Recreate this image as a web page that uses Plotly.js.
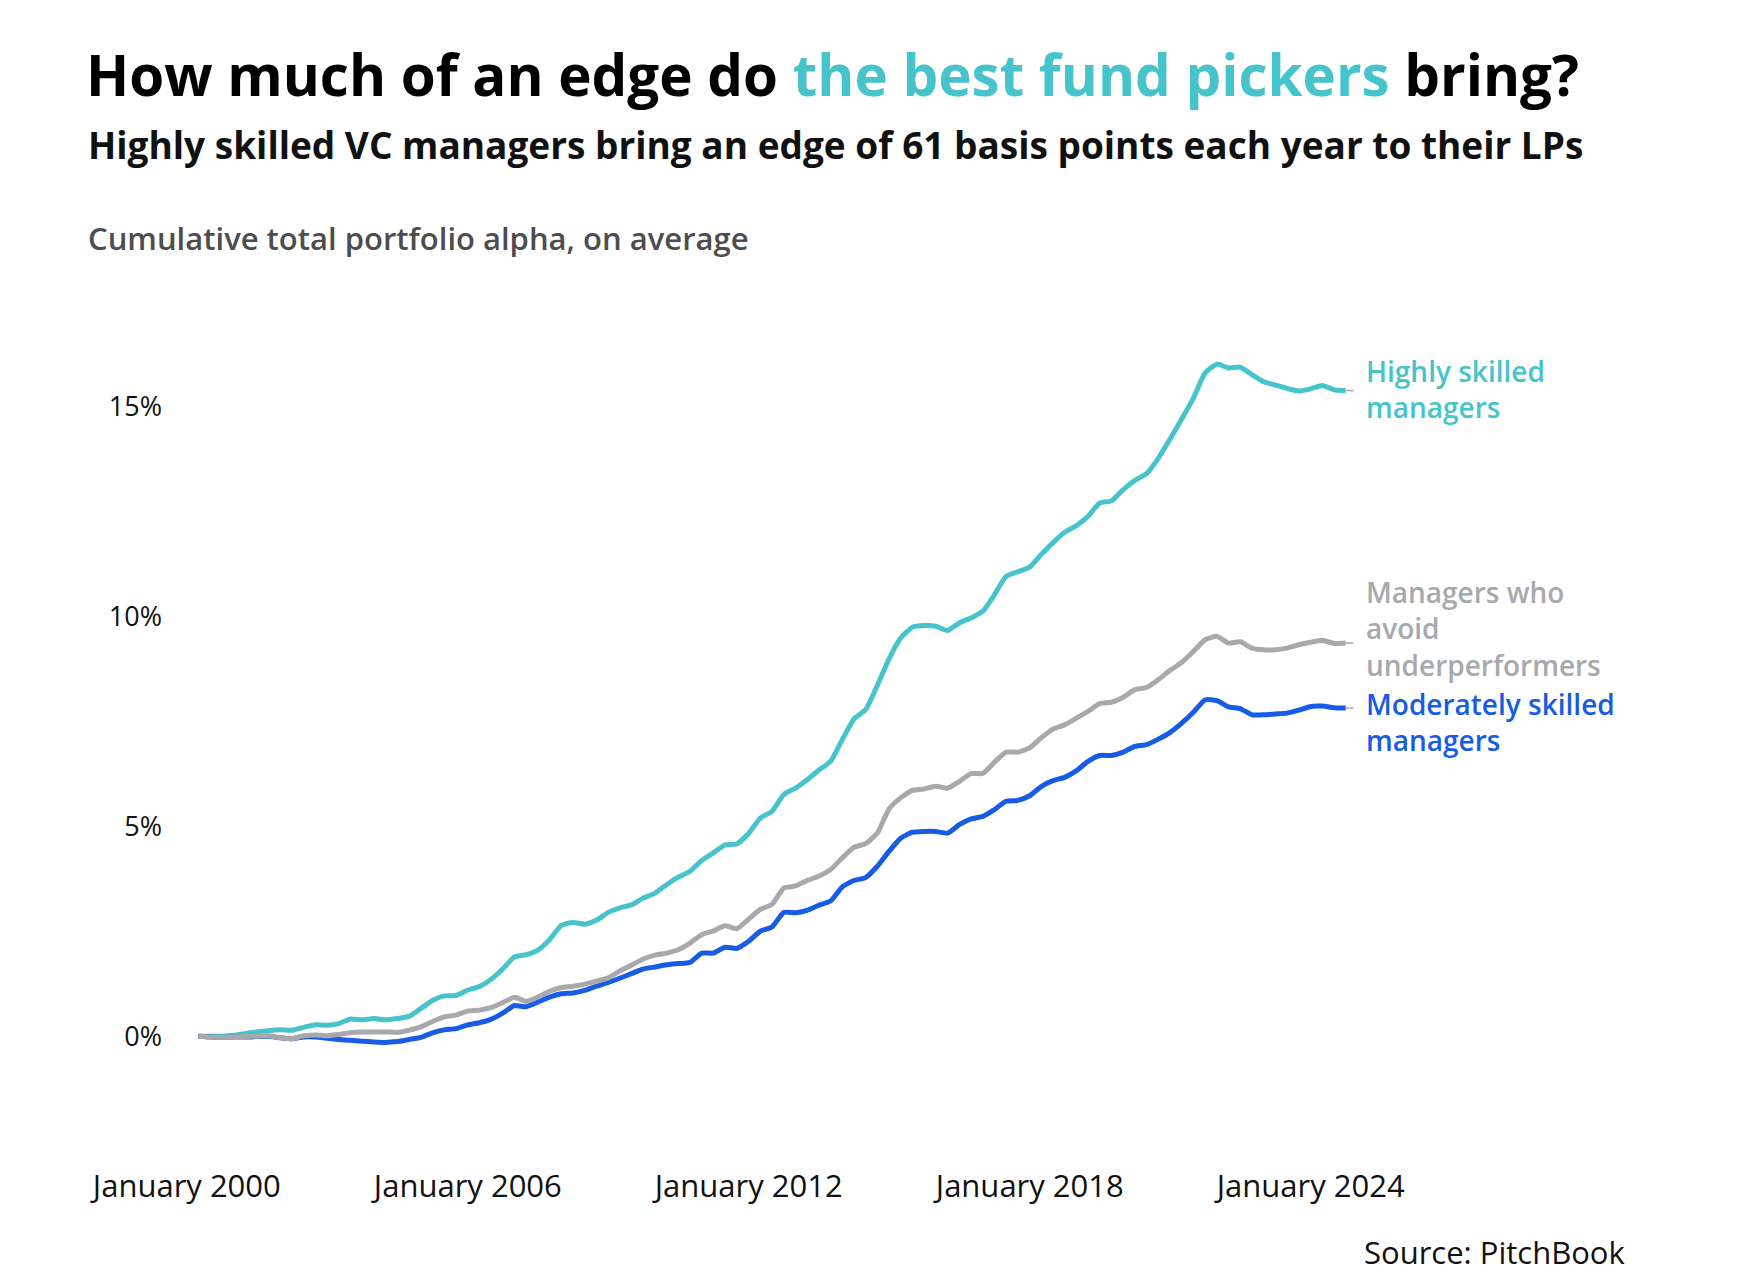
<!DOCTYPE html>
<html>
<head>
<meta charset="utf-8">
<script src="https://cdn.plot.ly/plotly-3.0.1.min.js"></script>
<style>
  html, body { margin: 0; padding: 0; background: #ffffff; }
  #chart { width: 1744px; height: 1284px; }
</style>
</head>
<body>
<div id="chart"></div>
<script>
// Quarter-end dates
const dates = [
  '2000-03-31','2000-06-30','2000-09-30','2000-12-31',
  '2001-03-31','2001-06-30','2001-09-30','2001-12-31',
  '2002-03-31','2002-06-30','2002-09-30','2002-12-31',
  '2003-03-31','2003-06-30','2003-09-30','2003-12-31',
  '2004-03-31','2004-06-30','2004-09-30','2004-12-31',
  '2005-03-31','2005-06-30','2005-09-30','2005-12-31',
  '2006-03-31','2006-06-30','2006-09-30','2006-12-31',
  '2007-03-31','2007-06-30','2007-09-30','2007-12-31',
  '2008-03-31','2008-06-30','2008-09-30','2008-12-31',
  '2009-03-31','2009-06-30','2009-09-30','2009-12-31',
  '2010-03-31','2010-06-30','2010-09-30','2010-12-31',
  '2011-03-31','2011-06-30','2011-09-30','2011-12-31',
  '2012-03-31','2012-06-30','2012-09-30','2012-12-31',
  '2013-03-31','2013-06-30','2013-09-30','2013-12-31',
  '2014-03-31','2014-06-30','2014-09-30','2014-12-31',
  '2015-03-31','2015-06-30','2015-09-30','2015-12-31',
  '2016-03-31','2016-06-30','2016-09-30','2016-12-31',
  '2017-03-31','2017-06-30','2017-09-30','2017-12-31',
  '2018-03-31','2018-06-30','2018-09-30','2018-12-31',
  '2019-03-31','2019-06-30','2019-09-30','2019-12-31',
  '2020-03-31','2020-06-30','2020-09-30','2020-12-31',
  '2021-03-31','2021-06-30','2021-09-30','2021-12-31',
  '2022-03-31','2022-06-30','2022-09-30','2022-12-31',
  '2023-03-31','2023-06-30','2023-09-30','2023-12-31',
  '2024-03-31','2024-06-30','2024-09-30'
];

// Cumulative total portfolio alpha (%)
const highlySkilled = [
  0.00, 0.00, 0.00, 0.02, 0.06, 0.10, 0.13, 0.15, 0.14, 0.21,
  0.27, 0.26, 0.30, 0.41, 0.39, 0.42, 0.39, 0.42, 0.47, 0.66,
  0.85, 0.96, 0.97, 1.10, 1.18, 1.35, 1.60, 1.89, 1.94, 2.05,
  2.30, 2.64, 2.71, 2.67, 2.76, 2.95, 3.06, 3.13, 3.29, 3.41,
  3.61, 3.79, 3.93, 4.19, 4.37, 4.56, 4.58, 4.83, 5.20, 5.36,
  5.76, 5.91, 6.11, 6.34, 6.55, 7.07, 7.56, 7.78, 8.36, 9.00,
  9.49, 9.75, 9.79, 9.77, 9.67, 9.85, 9.97, 10.13, 10.52, 10.96,
  11.07, 11.18, 11.48, 11.76, 12.01, 12.17, 12.39, 12.71, 12.76, 13.03,
  13.25, 13.41, 13.78, 14.24, 14.71, 15.21, 15.81, 16.02, 15.93, 15.95,
  15.77, 15.60, 15.52, 15.44, 15.38, 15.43, 15.51, 15.41, 15.39
];

const avoidUnderperformers = [
  0.00, -0.02, -0.03, -0.02, -0.01, 0.00, 0.01, -0.04, -0.06, 0.01,
  0.03, 0.01, 0.04, 0.08, 0.10, 0.10, 0.10, 0.09, 0.14, 0.22,
  0.35, 0.46, 0.50, 0.60, 0.62, 0.68, 0.80, 0.93, 0.83, 0.93,
  1.07, 1.16, 1.19, 1.24, 1.31, 1.39, 1.55, 1.69, 1.84, 1.93,
  1.98, 2.06, 2.22, 2.42, 2.51, 2.63, 2.56, 2.79, 3.02, 3.14,
  3.53, 3.58, 3.71, 3.81, 3.97, 4.25, 4.50, 4.59, 4.84, 5.42,
  5.68, 5.86, 5.89, 5.96, 5.91, 6.07, 6.26, 6.26, 6.53, 6.77,
  6.77, 6.87, 7.11, 7.32, 7.42, 7.58, 7.74, 7.93, 7.96, 8.08,
  8.26, 8.31, 8.50, 8.72, 8.91, 9.17, 9.45, 9.53, 9.37, 9.40,
  9.25, 9.21, 9.21, 9.25, 9.33, 9.39, 9.44, 9.36, 9.37
];

const moderatelySkilled = [
  0.00, -0.02, -0.03, -0.02, -0.02, -0.01, 0.00, -0.04, -0.06, -0.02,
  -0.02, -0.05, -0.08, -0.10, -0.12, -0.14, -0.15, -0.13, -0.08, -0.03,
  0.08, 0.15, 0.18, 0.27, 0.32, 0.40, 0.55, 0.73, 0.70, 0.81,
  0.93, 1.01, 1.03, 1.09, 1.19, 1.28, 1.38, 1.49, 1.60, 1.65,
  1.70, 1.73, 1.76, 1.98, 1.98, 2.12, 2.09, 2.26, 2.50, 2.60,
  2.95, 2.94, 3.00, 3.12, 3.22, 3.56, 3.71, 3.78, 4.05, 4.41,
  4.72, 4.86, 4.88, 4.88, 4.84, 5.04, 5.18, 5.24, 5.40, 5.60,
  5.62, 5.73, 5.95, 6.09, 6.17, 6.33, 6.55, 6.69, 6.69, 6.77,
  6.91, 6.95, 7.08, 7.24, 7.46, 7.72, 8.02, 8.00, 7.85, 7.81,
  7.66, 7.66, 7.68, 7.70, 7.77, 7.86, 7.87, 7.83, 7.82
];

const seriesNames = ['Highly skilled managers', 'Moderately skilled managers', 'Managers who avoid underperformers'];
const labelTexts = ['Highly skilled<br>managers', 'Managers who<br>avoid<br>underperformers', 'Moderately skilled<br>managers'];
const xTickVals = ['2000-01-01', '2006-01-01', '2012-01-01', '2018-01-01', '2024-01-01'];
const xTickText = ['January 2000', 'January 2006', 'January 2012', 'January 2018', 'January 2024'];
const yTickVals = [0, 5, 10, 15];
const yTickText = ['0%', '5%', '10%', '15%'];

const TEAL = '#47C4CB';
const BLUE = '#175CE5';
const GRAY = '#A7A9AC';

const lineStyle = (c) => ({ color: c, width: 5, shape: 'spline', smoothing: 0.5 });

const traces = [
  { x: dates, y: highlySkilled, name: seriesNames[0], type: 'scatter', mode: 'lines', line: lineStyle(TEAL), hoverinfo: 'skip' },
  { x: dates, y: moderatelySkilled, name: seriesNames[1], type: 'scatter', mode: 'lines', line: lineStyle(BLUE), hoverinfo: 'skip' },
  { x: dates, y: avoidUnderperformers, name: seriesNames[2], type: 'scatter', mode: 'lines', line: lineStyle(GRAY), hoverinfo: 'skip' }
];

// short leader lines from the end of each line toward its label
const lastDate = dates[dates.length - 1];
const leaderEnd = '2024-11-30';
const leaders = [highlySkilled, avoidUnderperformers, moderatelySkilled].map(s => ({
  type: 'line', xref: 'x', yref: 'y',
  x0: lastDate, x1: leaderEnd, y0: s[s.length - 1], y1: s[s.length - 1],
  line: { color: GRAY, width: 1.5 }
}));

// geometry helpers for paper coordinates
const L = 175, R = 1498.4, T = 323.35, B = 1162.35;
const px = (p) => (p - L) / (R - L);
const py = (p) => (B - p) / (B - T);

const labelFont = (c) => ({ family: 'Open Sans, sans-serif', size: 28, color: c, weight: 600 });
const lbl = (text, yTop, c) => ({ text, x: px(1364), y: py(yTop), xref: 'paper', yref: 'paper', xanchor: 'left', yanchor: 'top', align: 'left', showarrow: false, font: labelFont(c) });

const annotations = [
  { text: 'Highly skilled VC managers bring an edge of 61 basis points each year to their LPs',
    x: px(86), y: py(145), xref: 'paper', yref: 'paper', xanchor: 'left', yanchor: 'middle', showarrow: false,
    font: { family: 'Open Sans, sans-serif', size: 37, color: '#111111', weight: 700 } },
  { text: 'Cumulative total portfolio alpha, on average',
    x: px(86), y: py(238), xref: 'paper', yref: 'paper', xanchor: 'left', yanchor: 'middle', showarrow: false,
    font: { family: 'Open Sans, sans-serif', size: 31, color: '#4D4D4D', weight: 600 } },
  { text: 'Source: PitchBook',
    x: px(1627), y: py(1252), xref: 'paper', yref: 'paper', xanchor: 'right', yanchor: 'middle', showarrow: false,
    font: { family: 'Open Sans, sans-serif', size: 31, color: '#111111' } },
  lbl(labelTexts[0], 350, TEAL),
  lbl(labelTexts[1], 571, GRAY),
  lbl(labelTexts[2], 683, BLUE)
];

const layout = {
  width: 1744, height: 1284,
  paper_bgcolor: '#ffffff', plot_bgcolor: '#ffffff',
  showlegend: false,
  margin: { l: L, r: 1744 - R, t: T, b: 1284 - B, pad: 0 },
  font: { family: 'Open Sans, sans-serif', color: '#111111' },
  title: {
    text: 'How much of an edge do <span style="color:' + TEAL + '">the best fund pickers</span> bring?',
    x: 86 / 1744, xanchor: 'left', xref: 'container',
    y: 1 - 76 / 1284, yanchor: 'middle', yref: 'container',
    font: { family: 'Open Sans, sans-serif', size: 56.5, color: '#000000', weight: 700 }
  },
  xaxis: {
    type: 'date', range: ['1999-10-01', '2028-01-01'],
    tickvals: xTickVals, ticktext: xTickText,
    showgrid: false, zeroline: false, showline: false, ticks: '',
    ticklabelstandoff: 3,
    tickfont: { family: 'Open Sans, sans-serif', size: 31, color: '#111111' }
  },
  yaxis: {
    range: [-3, 17],
    tickvals: yTickVals, ticktext: yTickText,
    showgrid: false, zeroline: false, showline: false, ticks: '',
    ticklabelstandoff: 12,
    tickfont: { family: 'Open Sans, sans-serif', size: 27, color: '#111111' }
  },
  shapes: leaders,
  annotations: annotations
};

Plotly.newPlot('chart', traces, layout, { staticPlot: true, displayModeBar: false });
</script>
</body>
</html>
